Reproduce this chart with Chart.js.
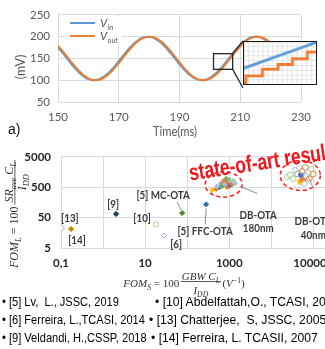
<!DOCTYPE html>
<html>
<head>
<meta charset="utf-8">
<script src="https://cdn.jsdelivr.net/npm/chart.js@4.4.1/dist/chart.umd.min.js"></script>
<style>
  html, body { margin: 0; padding: 0; background: #fff; }
  body { position: relative; width: 325px; height: 349px; overflow: hidden; font-family: "Liberation Sans", Arial, sans-serif; }
  canvas { position: absolute; }
  #topChart { left: 0; top: 0; }
  #fomChart { left: 0; top: 140px; }
  #insetChart { left: 243px; top: 41px; border: 1.5px solid #1a1a1a; background: #fff; }
  .ref { position: absolute; font-size: 13.5px; line-height: 14px; color: #000; white-space: pre; transform-origin: 0 0; }
  .ref.l { transform: scaleX(0.82); }
  .ref.r { transform: scaleX(0.9); }
</style>
</head>
<body>
<canvas id="topChart" width="325" height="142"></canvas>
<canvas id="fomChart" width="360" height="160"></canvas>
<canvas id="insetChart" width="74" height="44"></canvas>
<div id="refs"></div>
<script>
// ---- a) transient: input vs output (mV) ----
const time = [150,152,154,156,158,160,162,164,166,168,170,172,174,176,178,180,182,184,
              186,188,190,192,194,196,198,200,202,204,206,208,210,212,214,216,218,220];
const vIn  = [175.2,158.6,140.9,124.5,111.2,102.7,100.0,103.6,112.9,126.8,143.6,161.2,177.4,190.2,198.0,199.9,195.6,185.6,
              171.2,154.2,136.6,120.8,108.5,101.4,100.3,105.4,116.0,130.8,148.0,165.4,181.0,192.8,199.1,199.4,193.6,182.5];
const vOut = [179.0,163.0,145.2,128.3,114.0,104.1,99.9,102.0,109.9,122.9,139.2,156.9,173.7,187.6,196.8,200.0,197.4,188.7,
              175.2,158.6,140.9,124.4,111.0,102.4,99.8,103.4,112.8,126.7,143.6,161.2,177.5,190.5,198.2,200.0,195.8,185.9];
const zoomBoxX = [201.2, 207.5];
const zoomBoxY = [125, 161];

// inset (zoomed view, arbitrary units)
const insetLineX = [0, 15];
const insetLineY = [3.4, 8.9];
const insetStepX = [0, 0.4, 3.85, 7.1, 10.1, 13.2, 15];
const insetStepY = [0.3, 1.74, 3.17, 4.19, 5.42, 6.85, 6.85];

// ---- FOM comparison ----
const refLabels = ['[13]', '[14]', '[9]', '[10]', '[6]', '[5] MC-OTA', '[5] FFC-OTA'];
const refGbw = [0.105, 0.173, 2.04, 18.3, 28.4, 75.9, 283];
const refSr  = [22.6, 21.1, 66, 30.2, 12.7, 71, 136];
const db180Gbw = [394, 490, 578, 645, 681, 760, 804, 849, 896, 946, 1000, 1057, 1116, 1178, 1245, 1389, 518];
const db180Sr  = [403, 433, 500, 667, 537, 828, 620, 952, 500, 716, 889, 577, 770, 620, 828, 667, 537];
const db40Gbw = [24000, 28300, 33400, 37200, 41600, 46400, 49000, 51800, 54700, 57800, 64500, 68100, 76000, 80400, 89600, 100000, 61100];
const db40Sr  = [1104, 1274, 955, 1827, 1369, 2108, 770, 1274, 1700, 889, 2265, 1186, 1581, 955, 1963, 1369, 667];
const xTicks = [0.1, 1, 10, 100, 1000, 10000, 100000];
const xTickLabels = ['0,1', '', '10', '', '1000', '', '100000'];
const yTicks = [5, 50, 500, 5000];

const refsLeft  = ['• [5] Lv,  L., JSSC, 2019', '• [6] Ferreira, L.,TCASI, 2014', '• [9] Veldandi, H.,CSSP, 2018'];
const refsRight = ['• [10] Abdelfattah,O., TCASI, 2015', '• [13] Chatterjee,  S, JSSC, 2005', '• [14] Ferreira, L. TCASII, 2007'];

// marker styles
const refColors = ['#8faadc', '#bf9000', '#203864', '#a9d18e', '#8faadc', '#548235', '#2e75b6'];
const refHollow = [true, false, false, true, true, false, false];
const refShapes = ['rectRot', 'rectRot', 'rectRot', 'circle', 'rectRot', 'rectRot', 'rectRot'];
const db180Colors = ['#ffc000','#ed7d31','#4472c4','#a5a5a5','#70ad47','#ed7d31','#9dc3e6','#70ad47','#ed7d31',
                     '#ed7d31','#a5a5a5','#4472c4','#9dc3e6','#ed7d31','#a9d18e','#9dc3e6','#9dc3e6'];
const db40Colors = ['#a9d18e','#a9d18e','#a9d18e','#9dc3e6','#a5a5a5','#9dc3e6','#ffc000','#4472c4','#ed7d31',
                    '#ed7d31','#ed7d31','#9dc3e6','#9dc3e6','#ed7d31','#a9d18e','#ed7d31','#9dc3e6'];
const db40Filled = [false,false,false,false,false,false,true,true,false,true,false,false,false,false,false,false,false];

// text helper, sx squeezes horizontally like the original figure
const drawText = (ctx, s, x, y, o = {}) => {
    ctx.save();
    ctx.translate(x, y);
    if (o.rot) ctx.rotate(o.rot);
    ctx.scale(o.sx || 1, 1);
    ctx.font = o.font || '12px Lato';
    ctx.fillStyle = o.color || '#000';
    ctx.textAlign = o.align || 'left';
    ctx.textBaseline = o.base || 'alphabetic';
    ctx.fillText(s, 0, 0);
    ctx.restore();
};

// simple math runs: {t, i: italic, sub, sup}
const mathRuns = (ctx, runs, x, y, size, dry) => {
    let cx = x;
    runs.forEach(r => {
        const fs = (r.sub || r.sup) ? size * 0.7 : size;
        ctx.font = (r.i ? 'italic ' : '') + fs + 'px "Liberation Serif"';
        const dy = r.sub ? size * 0.28 : r.sup ? -size * 0.4 : 0;
        if (!dry) ctx.fillText(r.t, cx, y + dy);
        cx += ctx.measureText(r.t).width;
    });
    return cx - x;
};

const line = (ctx, x0, y0, x1, y1) => {
    ctx.beginPath(); ctx.moveTo(x0, y0); ctx.lineTo(x1, y1); ctx.stroke();
};

// ---------- top chart ----------
const topDecor = {
    id: 'topDecor',
    afterDraw(chart) {
        const { ctx, scales: { x, y } } = chart;
        ctx.save();
        // zoom rectangle + connectors to inset
        const x0 = x.getPixelForValue(zoomBoxX[0]), x1 = x.getPixelForValue(zoomBoxX[1]);
        const y0 = y.getPixelForValue(zoomBoxY[1]), y1 = y.getPixelForValue(zoomBoxY[0]);
        ctx.strokeStyle = '#262626';
        ctx.lineWidth = 1.3;
        ctx.strokeRect(x0, y0, x1 - x0, y1 - y0);
        line(ctx, x1, y0, 243, 41);
        line(ctx, x1, y1, 243, 88);

        // legend
        ctx.fillStyle = '#fff';
        ctx.fillRect(64, 16, 58, 27);
        ctx.lineWidth = 2;
        ctx.strokeStyle = '#5b9bd5'; line(ctx, 70, 23, 95, 23);
        ctx.strokeStyle = '#ed7d31'; line(ctx, 70, 36, 95, 36);
        drawText(ctx, 'V', 100, 27, { font: 'italic 11.5px Lato', color: '#595959' });
        drawText(ctx, 'in', 107.5, 29.5, { font: 'italic 7.5px Lato', color: '#595959' });
        drawText(ctx, 'V', 100, 40, { font: 'italic 11.5px Lato', color: '#595959' });
        drawText(ctx, 'out', 107.5, 42.5, { font: 'italic 7.5px Lato', color: '#595959' });

        // axis titles
        drawText(ctx, '(mV)', 25, 67, { rot: -Math.PI / 2, font: '12.5px Lato', color: '#595959', align: 'center' });
        drawText(ctx, 'Time(ms)', 175, 136, { font: '14px Lato', color: '#595959', align: 'center', sx: 0.8 });
        drawText(ctx, 'a)', 8, 134, { font: '14px "Liberation Sans"', color: '#111' });
        ctx.restore();
    }
};

new Chart(document.getElementById('topChart'), {
    type: 'line',
    data: {
        datasets: [
            {
                label: 'Vout',
                data: time.map((t, i) => ({ x: t, y: vOut[i] })),
                borderColor: '#ed7d31',
                borderWidth: 2,
                pointRadius: 0,
                tension: 0.4
            },
            {
                label: 'Vin',
                data: time.map((t, i) => ({ x: t, y: vIn[i] })),
                borderColor: '#5b9bd5',
                borderWidth: 2,
                pointRadius: 0,
                tension: 0.4
            }
        ]
    },
    options: {
        responsive: false,
        animation: false,
        layout: { padding: { top: 14, right: 24, left: 0, bottom: 0 } },
        plugins: { legend: { display: false }, tooltip: { enabled: false } },
        scales: {
            x: {
                type: 'linear', min: 150, max: 230,
                ticks: { stepSize: 20, color: '#595959', font: { family: 'Lato', size: 11.5 }, padding: 8, maxRotation: 0 },
                grid: { color: '#d9d9d9', drawTicks: false },
                border: { display: false },
                afterFit: s => { s.height = 40; }
            },
            y: {
                min: 50, max: 250,
                ticks: { stepSize: 50, color: '#595959', font: { family: 'Lato', size: 11.5 }, padding: 8 },
                grid: { color: '#d9d9d9', drawTicks: false },
                border: { display: false },
                afterFit: s => { s.width = 58; }
            }
        }
    },
    plugins: [topDecor]
});

// ---------- inset ----------
new Chart(document.getElementById('insetChart'), {
    type: 'line',
    data: {
        datasets: [
            {
                data: insetLineX.map((v, i) => ({ x: v, y: insetLineY[i] })),
                borderColor: '#5b9bd5', borderWidth: 3, pointRadius: 0
            },
            {
                data: insetStepX.map((v, i) => ({ x: v, y: insetStepY[i] })),
                borderColor: '#ed7d31', borderWidth: 3, pointRadius: 0, stepped: 'before'
            }
        ]
    },
    options: {
        responsive: false,
        animation: false,
        layout: { padding: 0 },
        plugins: { legend: { display: false }, tooltip: { enabled: false } },
        scales: {
            x: { type: 'linear', min: 0, max: 15, ticks: { display: false, stepSize: 1 },
                 grid: { color: '#e4e4e4', drawTicks: false }, border: { display: false } },
            y: { min: 0, max: 9, ticks: { display: false, stepSize: 1 },
                 grid: { color: '#e4e4e4', drawTicks: false }, border: { display: false } }
        }
    }
});

// ---------- FOM scatter ----------
const fomDecor = {
    id: 'fomDecor',
    afterDatasetsDraw(chart) {
        const { ctx, scales: { x, y } } = chart;
        const lbl = { font: 'bold 12px Lato', color: '#3a3a3a', align: 'center', base: 'middle', sx: 0.82 };
        ctx.save();

        // cluster ellipses
        const box = (gs, ss) => {
            const xs = gs.map(v => x.getPixelForValue(v)), ys = ss.map(v => y.getPixelForValue(v));
            const l = Math.min(...xs), r = Math.max(...xs), t = Math.min(...ys), b = Math.max(...ys);
            return { cx: (l + r) / 2, cy: (t + b) / 2, rx: (r - l) / 2 + 7, ry: (b - t) / 2 + 7 };
        };
        const c180 = box(db180Gbw, db180Sr), c40 = box(db40Gbw, db40Sr);
        ctx.strokeStyle = '#ff1a1a';
        ctx.lineWidth = 1.5;
        ctx.setLineDash([4, 3]);
        [c180, c40].forEach(c => {
            ctx.beginPath();
            ctx.ellipse(c.cx, c.cy, c.rx, c.ry, 0, 0, Math.PI * 2);
            ctx.stroke();
        });
        ctx.setLineDash([]);

        // leader lines
        ctx.strokeStyle = '#8c8c8c';
        ctx.lineWidth = 1;
        const p = i => [x.getPixelForValue(refGbw[i]), y.getPixelForValue(refSr[i])];
        const [mx, my] = p(5), [fx, fy] = p(6);
        line(ctx, mx - 5, my - 11, mx - 1, my - 3);
        line(ctx, fx, fy + 4, fx - 1, fy + 20);
        line(ctx, c180.cx + 16.5, c180.cy + 2, c180.cx + 33.5, c180.cy + 9);
        line(ctx, c40.cx + 8, c40.cy + 1.5, c40.cx + 12, c40.cy + 10.5);

        // point labels
        const offs = [[8, -10], [6, 11], [-3, -10], [-14, -6], [12, 8], [-19, -18], [-1, 27]];
        refLabels.forEach((s, i) => {
            const [px, py] = p(i);
            drawText(ctx, s, px + offs[i][0], py + offs[i][1], lbl);
        });
        drawText(ctx, 'DB-OTA', c180.cx + 34.5, c180.cy + 31, lbl);
        drawText(ctx, '180nm', c180.cx + 34.5, c180.cy + 44, lbl);
        drawText(ctx, 'DB-OTA', c40.cx + 13, c40.cy + 45.5, lbl);
        drawText(ctx, '40nm', c40.cx + 13, c40.cy + 59.5, lbl);

        // highlight text
        drawText(ctx, 'state-of-art results', c180.cx - 33.5, c180.cy - 4,
                 { font: 'bold 23px "Liberation Sans"', color: '#f2141b', rot: -0.15, sx: 0.76 });

        // x title: FOM_S = 100 GBW C_L / I_DD (V^-1)
        ctx.fillStyle = '#333';
        const xMain = [{ t: 'FOM', i: 1 }, { t: 'S', i: 1, sub: 1 }, { t: ' = 100' }];
        const xNum = [{ t: 'GBW C', i: 1 }, { t: 'L', i: 1, sub: 1 }];
        const xDen = [{ t: 'I', i: 1 }, { t: 'DD', i: 1, sub: 1 }];
        const xTail = [{ t: '(' }, { t: 'V', i: 1 }, { t: '−1', sup: 1 }, { t: ')' }];
        const fs = 11;
        const wm = mathRuns(ctx, xMain, 0, 0, fs, true);
        const wn = mathRuns(ctx, xNum, 0, 0, fs, true), wd = mathRuns(ctx, xDen, 0, 0, fs, true);
        const bw = Math.max(wn, wd) + 2;
        const wt = mathRuns(ctx, xTail, 0, 0, fs, true);
        let sx = 184 - (wm + bw + wt + 3) / 2;
        const base = 147;
        mathRuns(ctx, xMain, sx, base, fs);
        sx += wm + 1.5;
        mathRuns(ctx, xNum, sx + (bw - wn) / 2, base - 7.5, fs);
        ctx.fillRect(sx, base - 6, bw, 0.8);
        mathRuns(ctx, xDen, sx + (bw - wd) / 2, base + 7, fs);
        mathRuns(ctx, xTail, sx + bw + 1.5, base, fs);

        // y title: FOM_L = 100 SR_ave C_L / I_DD
        const yMain = [{ t: 'FOM', i: 1 }, { t: 'L', i: 1, sub: 1 }, { t: ' = 100' }];
        const yNum = [{ t: 'SR', i: 1 }, { t: 'ave', i: 1, sub: 1 }, { t: ' C', i: 1 }, { t: 'L', i: 1, sub: 1 }];
        const yDen = [{ t: 'I', i: 1 }, { t: 'DD', i: 1, sub: 1 }];
        const ys = 12;
        const ym = mathRuns(ctx, yMain, 0, 0, ys, true);
        const yn = mathRuns(ctx, yNum, 0, 0, ys, true), yd = mathRuns(ctx, yDen, 0, 0, ys, true);
        const yb = Math.max(yn, yd) + 4;
        ctx.save();
        ctx.translate(17.5, 128);
        ctx.rotate(-Math.PI / 2);
        mathRuns(ctx, yMain, 0, 0, ys);
        const fx0 = ym + 2;
        mathRuns(ctx, yNum, fx0 + (yb - yn) / 2, -4.5, ys);
        ctx.fillRect(fx0, -3, yb, 0.8);
        mathRuns(ctx, yDen, fx0 + (yb - yd) / 2, 8, ys);
        ctx.restore();

        ctx.restore();
    }
};

new Chart(document.getElementById('fomChart'), {
    type: 'scatter',
    data: {
        datasets: [
            {
                data: refGbw.map((v, i) => ({ x: v, y: refSr[i] })),
                pointStyle: refShapes,
                pointRadius: 2.6,
                pointBorderWidth: 1,
                pointBorderColor: refColors,
                pointBackgroundColor: refColors.map((c, i) => refHollow[i] ? '#fff' : c)
            },
            {
                data: db180Gbw.map((v, i) => ({ x: v, y: db180Sr[i] })),
                pointStyle: 'rectRot',
                pointRadius: 2.4,
                pointBorderWidth: 1,
                pointBorderColor: db180Colors,
                pointBackgroundColor: db180Colors
            },
            {
                data: db40Gbw.map((v, i) => ({ x: v, y: db40Sr[i] })),
                pointStyle: 'circle',
                pointRadius: 2.8,
                pointBorderWidth: 1,
                pointBorderColor: db40Colors,
                pointBackgroundColor: db40Colors.map((c, i) => db40Filled[i] ? c : 'rgba(255,255,255,0.6)')
            }
        ]
    },
    options: {
        responsive: false,
        animation: false,
        layout: { padding: { top: 12, right: 34, left: 0, bottom: 0 } },
        plugins: { legend: { display: false }, tooltip: { enabled: false } },
        scales: {
            x: {
                type: 'logarithmic', min: 0.1, max: 200000,
                afterBuildTicks: s => { s.ticks = xTicks.map(v => ({ value: v })); },
                ticks: {
                    autoSkip: false, maxRotation: 0, padding: 8,
                    color: '#262626', font: { family: 'Lato', size: 11.5, weight: 'bold' },
                    callback: (v, i) => xTickLabels[i]
                },
                grid: { color: '#d9d9d9', drawTicks: false },
                border: { display: false },
                afterFit: s => { s.height = 52; }
            },
            y: {
                type: 'logarithmic', min: 5, max: 5000,
                afterBuildTicks: s => { s.ticks = yTicks.map(v => ({ value: v })); },
                ticks: {
                    autoSkip: false, padding: 10,
                    color: '#262626', font: { family: 'Lato', size: 11.5, weight: 'bold' },
                    callback: v => String(v)
                },
                grid: { color: '#d9d9d9', drawTicks: false },
                border: { display: false },
                afterFit: s => { s.width = 61; }
            }
        }
    },
    plugins: [fomDecor]
});

// ---------- reference list ----------
const refBox = document.getElementById('refs');
const rowTops = [295, 313, 331];
const rightLeft = [155, 149, 151];
refsLeft.forEach((s, i) => {
    refBox.innerHTML += `<div class="ref l" style="left:2px;top:${rowTops[i]}px">${s}</div>`;
});
refsRight.forEach((s, i) => {
    refBox.innerHTML += `<div class="ref r" style="left:${rightLeft[i]}px;top:${rowTops[i]}px">${s}</div>`;
});
</script>
</body>
</html>
